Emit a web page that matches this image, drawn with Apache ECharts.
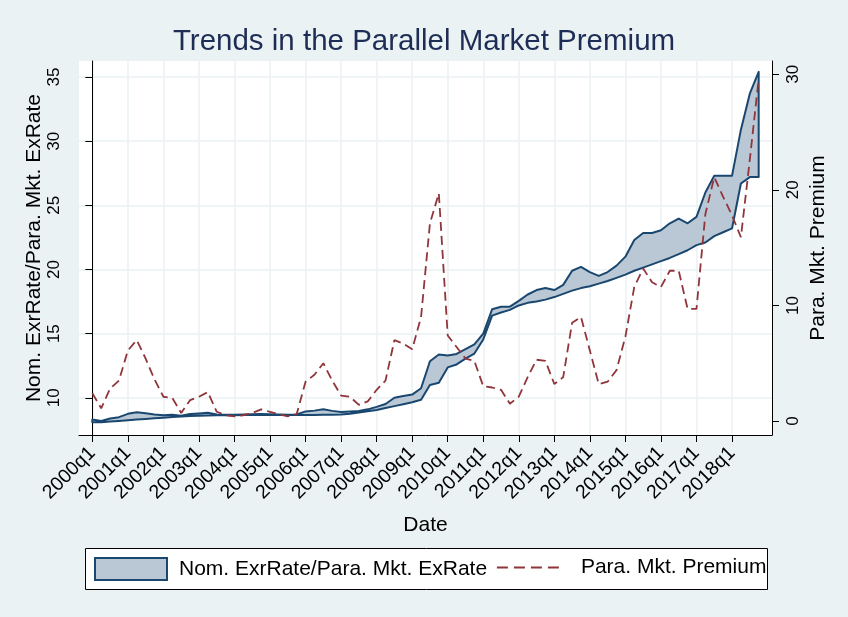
<!DOCTYPE html>
<html><head><meta charset="utf-8">
<script src="https://cdn.jsdelivr.net/npm/echarts@6/dist/echarts.min.js"></script>
<style>html,body{margin:0;padding:0;background:#eaf2f3}#c{width:848px;height:617px}</style>
</head><body><div id="c"></div>
<script>
const quarters = [
 '2000q1','2000q2','2000q3','2000q4','2001q1','2001q2','2001q3','2001q4','2002q1','2002q2','2002q3','2002q4',
 '2003q1','2003q2','2003q3','2003q4','2004q1','2004q2','2004q3','2004q4','2005q1','2005q2','2005q3','2005q4',
 '2006q1','2006q2','2006q3','2006q4','2007q1','2007q2','2007q3','2007q4','2008q1','2008q2','2008q3','2008q4',
 '2009q1','2009q2','2009q3','2009q4','2010q1','2010q2','2010q3','2010q4','2011q1','2011q2','2011q3','2011q4',
 '2012q1','2012q2','2012q3','2012q4','2013q1','2013q2','2013q3','2013q4','2014q1','2014q2','2014q3','2014q4',
 '2015q1','2015q2','2015q3','2015q4','2016q1','2016q2','2016q3','2016q4','2017q1','2017q2','2017q3','2017q4',
 '2018q1','2018q2','2018q3','2018q4'];
const xTickLabels = ['2000q1','2001q1','2002q1','2003q1','2004q1','2005q1','2006q1','2007q1','2008q1','2009q1',
 '2010q1','2011q1','2012q1','2013q1','2014q1','2015q1','2016q1','2017q1','2018q1'];
const leftTicks = [10, 15, 20, 25, 30, 35];
const rightTicks = [0, 10, 20, 30];

// Nominal exchange rate (lower edge of band)
const nominalRate = [
 8.1, 8.1, 8.15, 8.2, 8.25, 8.3, 8.35, 8.4, 8.45, 8.5,
 8.55, 8.58, 8.6, 8.62, 8.63, 8.64, 8.64, 8.65, 8.65, 8.65,
 8.65, 8.65, 8.65, 8.65, 8.65, 8.66, 8.67, 8.68, 8.7, 8.75,
 8.85, 8.95, 9.05, 9.2, 9.35, 9.5, 9.65, 9.85, 11.0, 11.17,
 12.37, 12.6, 13.05, 13.45, 14.55, 16.4, 16.65, 16.85, 17.2, 17.4,
 17.5, 17.65, 17.85, 18.1, 18.35, 18.55, 18.7, 18.9, 19.1, 19.35,
 19.6, 19.9, 20.15, 20.4, 20.65, 20.9, 21.2, 21.5, 21.9, 22.1,
 22.6, 22.9, 23.2, 26.7, 27.2, 27.2];
// Parallel market exchange rate (upper edge of band)
const parallelRate = [
 8.3, 8.19, 8.38, 8.49, 8.75, 8.88, 8.8, 8.7, 8.63, 8.67,
 8.61, 8.73, 8.78, 8.84, 8.7, 8.68, 8.67, 8.69, 8.71, 8.74,
 8.72, 8.7, 8.68, 8.7, 8.94, 9.0, 9.1, 8.98, 8.89, 8.93,
 8.97, 9.1, 9.29, 9.52, 10.0, 10.14, 10.25, 10.74, 12.85, 13.38,
 13.3, 13.42, 13.8, 14.17, 15.0, 16.9, 17.1, 17.1, 17.55, 18.05,
 18.4, 18.55, 18.4, 18.8, 19.9, 20.2, 19.8, 19.5, 19.8, 20.3,
 21.0, 22.3, 22.85, 22.85, 23.06, 23.6, 23.97, 23.6, 24.1, 26.0,
 27.3, 27.3, 27.3, 30.9, 33.7, 35.4];
// Parallel market premium (%)
const premium = [
 2.4, 1.1, 2.8, 3.5, 6.1, 7.0, 5.4, 3.6, 2.1, 2.0,
 0.7, 1.8, 2.1, 2.5, 0.8, 0.5, 0.4, 0.5, 0.7, 1.0,
 0.8, 0.6, 0.4, 0.6, 3.4, 4.0, 5.0, 3.5, 2.2, 2.1,
 1.4, 1.7, 2.7, 3.5, 7.0, 6.7, 6.2, 9.0, 17.1, 19.7,
 7.4, 6.4, 5.4, 5.2, 3.0, 2.9, 2.7, 1.5, 2.1, 3.8,
 5.3, 5.2, 3.2, 3.8, 8.5, 9.0, 6.1, 3.2, 3.4, 4.4,
 7.3, 11.6, 13.2, 12.0, 11.6, 13.0, 13.0, 9.7, 9.7, 17.9,
 21.1, 19.4, 17.8, 15.9, 22.6, 29.6];

const bandName = 'Nom. ExrRate/Para. Mkt. ExRate';
const premiumName = 'Para. Mkt. Premium';

const FONT = "'Liberation Sans', Arial, Helvetica, sans-serif";
const NAVY = '#1a476f', FILL = '#b9c8d4', MAROON = '#90353b', BG = '#eaf2f3';
const xTickPos = xTickLabels.map(t => quarters.indexOf(t));

const chart = echarts.init(document.getElementById('c'), null, {renderer: 'canvas'});
const option = {
  backgroundColor: BG,
  animation: false,
  textStyle: {fontFamily: FONT},
  title: {
    text: 'Trends in the Parallel Market Premium', left: 'center', top: 22,
    textStyle: {fontFamily: FONT, fontSize: 29.5, fontWeight: 'normal', color: '#1e2d55'}
  },
  grid: {left: 79, right: 76, top: 61, bottom: 182, show: true, backgroundColor: '#ffffff', borderWidth: 0},
  xAxis: {
    type: 'value', min: -1.5, max: 76.5,
    name: 'Date', nameLocation: 'middle', nameGap: 80, nameMoveOverlap: false,
    nameTextStyle: {fontFamily: FONT, fontSize: 21, color: '#000'},
    axisLine: {show: true, onZero: false, lineStyle: {color: '#000', width: 1}},
    axisTick: {show: true, customValues: xTickPos, length: 7, lineStyle: {color: '#000', width: 1}},
    axisLabel: {customValues: xTickPos, rotate: 45, formatter: v => quarters[v], fontSize: 19.5, color: '#000', margin: 15, fontFamily: FONT},
    splitLine: {show: true, lineStyle: {color: BG, width: 1.5}}
  },
  yAxis: [
    {
      type: 'value', position: 'left', min: 7.1, max: 36.25,
      name: bandName, nameLocation: 'middle', nameGap: 34, nameRotate: 90, nameMoveOverlap: false,
      nameTextStyle: {fontFamily: FONT, fontSize: 21, color: '#000'},
      axisLine: {show: true, lineStyle: {color: '#000', width: 1}},
      axisTick: {show: true, customValues: leftTicks, length: 7, lineStyle: {color: '#000'}},
      axisLabel: {customValues: leftTicks, rotate: 90, fontSize: 17, color: '#000', margin: 16, fontFamily: FONT},
      splitLine: {show: true, lineStyle: {color: BG, width: 1.5}}
    },
    {
      type: 'value', position: 'right', min: -1.21, max: 31.15,
      name: premiumName, nameLocation: 'middle', nameGap: 36, nameRotate: 90, nameMoveOverlap: false,
      nameTextStyle: {fontFamily: FONT, fontSize: 21, color: '#000'},
      axisLine: {show: true, lineStyle: {color: '#000', width: 1}},
      axisTick: {show: true, customValues: rightTicks, length: 7, lineStyle: {color: '#000'}},
      axisLabel: {customValues: rightTicks, rotate: 90, fontSize: 17, color: '#000', margin: 13, fontFamily: FONT},
      splitLine: {show: false}
    }
  ],
  legend: [
    {
      left: 94, top: 557, padding: 0, itemWidth: 72, itemHeight: 22, selectedMode: false, z: 10,
      data: [{name: bandName, icon: 'rect', itemStyle: {color: FILL, borderColor: NAVY, borderWidth: 2}}],
      textStyle: {fontFamily: FONT, fontSize: 21, color: '#000', padding: [0, 0, 0, 7]}
    },
    {
      left: 496, top: 557, padding: 0, itemWidth: 68, itemHeight: 22, selectedMode: false, z: 10,
      data: [{name: premiumName, itemStyle: {opacity: 0}, lineStyle: {color: MAROON, width: 1.8, type: [11, 6]}}],
      textStyle: {fontFamily: FONT, fontSize: 21, color: '#000', padding: [0, 0, 0, 11]}
    }
  ],
  graphic: [{
    type: 'rect', left: 85, top: 548, z: 0,
    shape: {width: 682, height: 41},
    style: {fill: '#ffffff', stroke: '#000', lineWidth: 1}
  }],
  series: [
    {
      type: 'custom', name: bandName, xAxisIndex: 0, yAxisIndex: 0,
      itemStyle: {color: FILL, borderColor: NAVY},
      encode: {x: 0, y: [1, 2]},
      data: quarters.map((q, i) => [i, nominalRate[i], parallelRate[i]]),
      renderItem: function (params, api) {
        if (params.dataIndex !== 0) return null;
        const pts = [];
        for (let i = 0; i < quarters.length; i++) pts.push(api.coord([i, parallelRate[i]]));
        for (let i = quarters.length - 1; i >= 0; i--) pts.push(api.coord([i, nominalRate[i]]));
        return {
          type: 'polygon', shape: {points: pts},
          style: {fill: FILL, stroke: NAVY, lineWidth: 2, lineJoin: 'round'}
        };
      },
      z: 2
    },
    {
      type: 'line', name: premiumName, xAxisIndex: 0, yAxisIndex: 1,
      data: quarters.map((q, i) => [i, premium[i]]),
      showSymbol: false, symbol: 'none',
      itemStyle: {color: MAROON},
      lineStyle: {color: MAROON, width: 1.8, type: [9, 5]},
      z: 3
    }
  ]
};
chart.setOption(option);
</script></body></html>
